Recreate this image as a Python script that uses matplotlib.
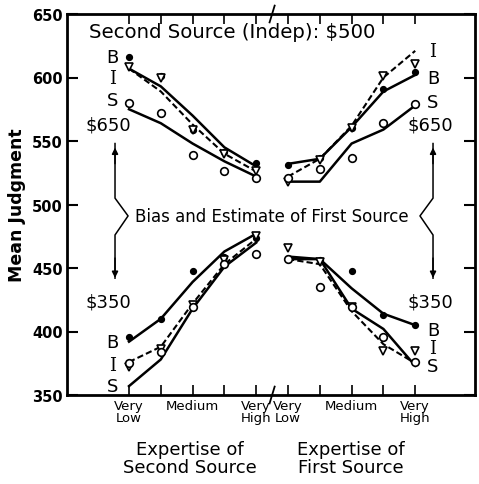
import matplotlib
matplotlib.use('Agg')
import matplotlib.pyplot as plt

# positions on the expertise axis: 1-5 second source, 6-10 first source
x_left = [1, 2, 3, 4, 5]
x_right = [6, 7, 8, 9, 10]

# first source $650 -- observed means
B_hi_2nd = [616, 601, 559, 541, 533]
I_hi_2nd = [608, 600, 559, 540, 526]
S_hi_2nd = [580, 572, 539, 526, 521]
B_hi_1st = [531, 537, 560, 591, 604]
I_hi_1st = [518, 535, 560, 601, 611]
S_hi_1st = [521, 528, 537, 564, 579]
# first source $650 -- model curves
B_hi_2nd_fit = [607, 593, 570, 545, 530]
I_hi_2nd_fit = [607, 589, 563, 540, 526]
S_hi_2nd_fit = [575, 564, 548, 534, 522]
B_hi_1st_fit = [532, 536, 561, 589, 602]
I_hi_1st_fit = [522, 536, 562, 600, 621]
S_hi_1st_fit = [518, 518, 548, 559, 578]

# first source $350 -- observed means
B_lo_2nd = [396, 410, 448, 459, 474]
I_lo_2nd = [372, 386, 421, 456, 475]
S_lo_2nd = [375, 384, 419, 453, 461]
B_lo_1st = [457, 456, 448, 413, 405]
I_lo_1st = [466, 455, 419, 385, 385]
S_lo_1st = [457, 435, 419, 396, 376]
# first source $350 -- model curves
B_lo_2nd_fit = [392, 410, 439, 463, 477]
I_lo_2nd_fit = [376, 388, 422, 453, 473]
S_lo_2nd_fit = [357, 378, 418, 451, 470]
B_lo_1st_fit = [459, 457, 434, 414, 405]
I_lo_1st_fit = [457, 453, 416, 390, 375]
S_lo_1st_fit = [457, 457, 418, 402, 373]

tick_labels = ['Very\nLow', '', 'Medium', '', 'Very\nHigh',
               'Very\nLow', '', 'Medium', '', 'Very\nHigh']

fig = plt.figure(figsize=(4.79, 4.85), dpi=100)
ax = fig.add_axes([67/479, 1-396/485, 408/479, 381/485])

fits = [(x_left, B_hi_2nd_fit, '-'), (x_left, I_hi_2nd_fit, '--'), (x_left, S_hi_2nd_fit, '-'),
        (x_right, B_hi_1st_fit, '-'), (x_right, I_hi_1st_fit, '--'), (x_right, S_hi_1st_fit, '-'),
        (x_left, B_lo_2nd_fit, '-'), (x_left, I_lo_2nd_fit, '--'), (x_left, S_lo_2nd_fit, '-'),
        (x_right, B_lo_1st_fit, '-'), (x_right, I_lo_1st_fit, '--'), (x_right, S_lo_1st_fit, '-')]
for xs, ys, ls in fits:
    if ls == '--':
        ax.plot(xs, ys, color='black', lw=1.5, ls=(0, (3, 1.5)))
    else:
        ax.plot(xs, ys, color='black', lw=1.8, ls='-')

for xs, ys in [(x_left, B_hi_2nd), (x_right, B_hi_1st), (x_left, B_lo_2nd), (x_right, B_lo_1st)]:
    ax.plot(xs, ys, 'o', color='black', ms=4.2, ls='none')
for xs, ys in [(x_left, I_hi_2nd), (x_right, I_hi_1st), (x_left, I_lo_2nd), (x_right, I_lo_1st)]:
    ax.plot(xs, ys, 'v', mfc='white', mec='black', mew=1.2, ms=6, ls='none')
for xs, ys in [(x_left, S_hi_2nd), (x_right, S_hi_1st), (x_left, S_lo_2nd), (x_right, S_lo_1st)]:
    ax.plot(xs, ys, 'o', mfc='white', mec='black', mew=1.2, ms=5.5, ls='none')

ax.set_xlim(-0.95, 11.88)
ax.set_ylim(350, 650)
ax.set_yticks([350, 400, 450, 500, 550, 600, 650])
ax.set_xticks(x_left + x_right)
ax.set_xticklabels(tick_labels, fontsize=9.5, linespacing=0.9)
for lab in ax.get_yticklabels():
    lab.set_fontweight('bold')
ax.tick_params(axis='y', direction='in', length=8, width=1.5, labelsize=10.5, pad=3, right=True)
ax.tick_params(axis='x', direction='in', length=7, width=1.2, pad=3, top=True)
for s in ax.spines.values():
    s.set_linewidth(2)

# axis break marks
ax.plot([5.42, 5.58], [0.978, 1.022], color='black', lw=1.3, transform=ax.get_xaxis_transform(), clip_on=False)
ax.plot([5.42, 5.58], [-0.022, 0.022], color='black', lw=1.3, transform=ax.get_xaxis_transform(), clip_on=False)

ax.text(4.24, 636, 'Second Source (Indep): \\$500', fontsize=14.2, ha='center', va='center')
ax.text(5.5, 491, 'Bias and Estimate of First Source', fontsize=12, ha='center', va='center')

lab_kw = dict(fontsize=13, ha='center', va='center')
ax.text(0.47, 616, 'B', **lab_kw)
ax.text(0.47, 600, 'I', family='DejaVu Serif', **lab_kw)
ax.text(0.47, 582, 'S', **lab_kw)
ax.text(0.34, 563, '\\$650', **lab_kw)
ax.text(10.56, 621, 'I', family='DejaVu Serif', **lab_kw)
ax.text(10.56, 600, 'B', **lab_kw)
ax.text(10.56, 581, 'S', **lab_kw)
ax.text(10.47, 563, '\\$650', **lab_kw)
ax.text(0.34, 424, '\\$350', **lab_kw)
ax.text(0.47, 392, 'B', **lab_kw)
ax.text(0.47, 374, 'I', family='DejaVu Serif', **lab_kw)
ax.text(0.47, 357, 'S', **lab_kw)
ax.text(10.47, 424, '\\$350', **lab_kw)
ax.text(10.56, 401, 'B', **lab_kw)
ax.text(10.56, 387, 'I', family='DejaVu Serif', **lab_kw)
ax.text(10.56, 373, 'S', **lab_kw)

# brackets with arrows
for xa, xt in [(0.56, 0.97), (10.56, 10.15)]:
    ax.plot([xa, xa, xt, xa, xa], [548, 505, 491, 476, 442], color='black', lw=1.1)
    ax.annotate('', xy=(xa, 547), xytext=(xa, 530),
                arrowprops=dict(arrowstyle='-|>', color='black', lw=1.1, mutation_scale=9))
    ax.annotate('', xy=(xa, 440), xytext=(xa, 460),
                arrowprops=dict(arrowstyle='-|>', color='black', lw=1.1, mutation_scale=9))

ax.text(2.92, 300, 'Expertise of\nSecond Source', fontsize=13, ha='center', va='center', linespacing=1.0)
ax.text(7.98, 300, 'Expertise of\nFirst Source', fontsize=13, ha='center', va='center', linespacing=1.0)
fig.text(17/479, 1-205/485, 'Mean Judgment', fontsize=12.5, fontweight='bold', rotation=90, ha='center', va='center')

fig.savefig('out.png', dpi=100)
